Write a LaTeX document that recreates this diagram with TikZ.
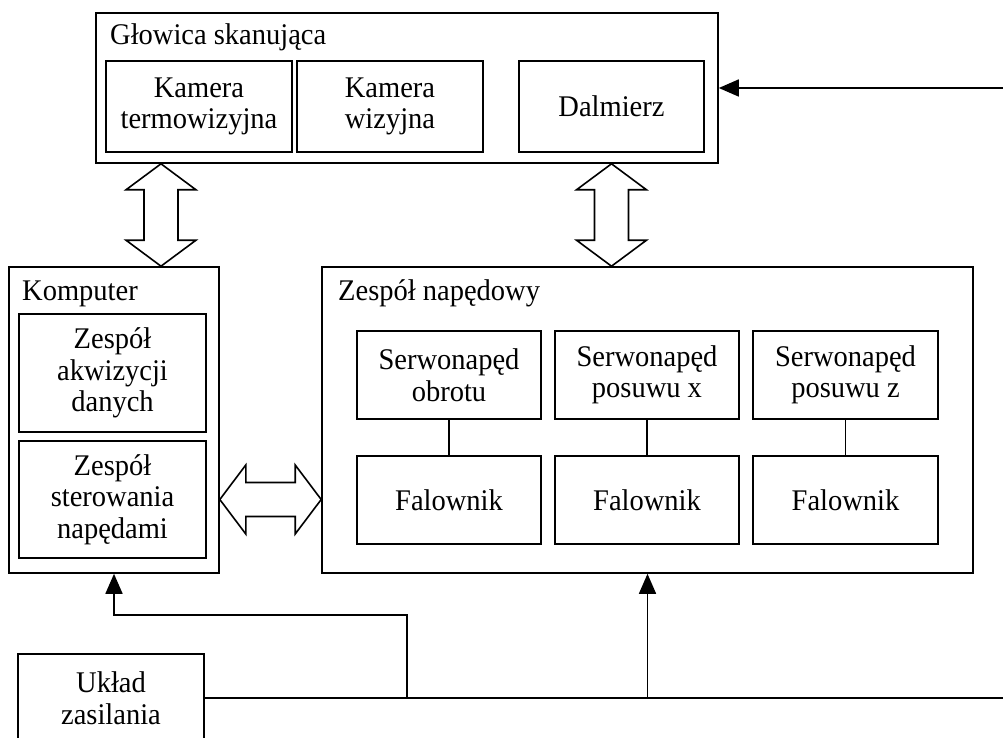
\documentclass[tikz,border=0pt]{standalone}
\usepackage{fontspec}
\setmainfont{Liberation Serif}[FakeStretch=0.95]
\usetikzlibrary{arrows.meta,calc}
\tikzset{
  lw/.style={line width=1.6pt},
  box/.style={draw, lw, inner sep=0pt, align=center, font=\fontsize{30}{31.5}\selectfont},
  ttl/.style={anchor=base west, inner sep=0pt, font=\fontsize{30}{31.5}\selectfont},
  darr/.style={draw, lw, line join=miter},
  conn/.style={lw},
  tipconn/.style={lw, -{Triangle[length=20pt,width=17pt]}}
}
\newcommand{\vdarr}[2]{\draw[darr] (#1) -- ($(#1)+(35,26)$) -- ($(#1)+(17,26)$) -- ($(#2)+(17,-26)$) -- ($(#2)+(35,-26)$) -- (#2) -- ($(#2)+(-35,-26)$) -- ($(#2)+(-17,-26)$) -- ($(#1)+(-17,26)$) -- ($(#1)+(-35,26)$) -- cycle;}
\newcommand{\hdarr}[2]{\draw[darr] (#1) -- ($(#1)+(26,-34.5)$) -- ($(#1)+(26,-17)$) -- ($(#2)+(-26,-17)$) -- ($(#2)+(-26,-34.5)$) -- (#2) -- ($(#2)+(-26,34.5)$) -- ($(#2)+(-26,17)$) -- ($(#1)+(26,17)$) -- ($(#1)+(26,34.5)$) -- cycle;}
\begin{document}
\begin{tikzpicture}[x=1pt,y=-1pt]
\useasboundingbox (0,0) rectangle (1003,738);
\clip (0,0) rectangle (1003,738);
% Glowica
\node[box, minimum width=622pt, minimum height=150pt] (glowica) at (407,88) {};
\node[ttl] (glowicaT) at (110,45) {Głowica skanująca};
\node[box, minimum width=186pt, minimum height=91pt] (kt) at (199,106.5) {Kamera\\termowizyjna};
\node[box, minimum width=186pt, minimum height=91pt] (kw) at (390,106.5) {Kamera\\wizyjna};
\node[box, minimum width=185pt, minimum height=91pt] (dal) at (611.5,106.5) {Dalmierz};
% Komputer
\node[box, minimum width=210pt, minimum height=306pt] (komp) at (114,420) {};
\node[ttl] (kompT) at (22,300) {Komputer};
\node[box, minimum width=187pt, minimum height=118pt] (akw) at (112.5,373) {Zespół\\akwizycji\\danych};
\node[box, minimum width=187pt, minimum height=117pt] (ster) at (112.5,499.5) {Zespół\\sterowania\\napędami};
% Zespol napedowy
\node[box, minimum width=651pt, minimum height=306pt] (nap) at (647.5,420) {};
\node[ttl] (napT) at (338,300) {Zespół napędowy};
\node[box, minimum width=184pt, minimum height=88pt] (s1) at (449,375) {Serwonapęd\\obrotu};
\node[box, minimum width=184pt, minimum height=88pt] (s2) at (647,375) {Serwonapęd\\posuwu x};
\node[box, minimum width=185pt, minimum height=88pt] (s3) at (845.5,375) {Serwonapęd\\posuwu z};
\node[box, minimum width=184pt, minimum height=88pt] (f1) at (449,500) {Falownik};
\node[box, minimum width=184pt, minimum height=88pt] (f2) at (647,500) {Falownik};
\node[box, minimum width=185pt, minimum height=88pt] (f3) at (845.5,500) {Falownik};
% Zasilanie
\node[box, minimum width=186pt, minimum height=88pt] (zas) at (111,698) {Układ\\zasilania};
% connectors inside napedowy
\draw[conn] (s1) -- (f1);
\draw[conn] (s2) -- (f2);
\draw[conn] (s3) -- (f3);
% double arrows
\coordinate (lx) at (161,0);
\coordinate (d1t) at (glowica.south -| lx);
\coordinate (d1b) at (komp.north -| lx);
\coordinate (d2t) at (glowica.south -| dal.south);
\coordinate (d2b) at (nap.north -| dal.south);
\coordinate (h1a) at (komp.east |- ster.east);
\coordinate (h1b) at (nap.west |- ster.east);
\vdarr{d1t}{d1b}
\vdarr{d2t}{d2b}
\hdarr{h1a}{h1b}
% input from right
\coordinate (inR) at (1003,88);
\draw[tipconn] (inR) -- (glowica.east);
% power lines
\coordinate (pR) at (1003,698);
\coordinate (bx) at (407,698);
\coordinate (bt) at (407,615);
\draw[conn] (zas.east) -- (pR);
\draw[tipconn] (bx) -- (bt) -- (bt -| komp.south) -- (komp.south);
\draw[tipconn] (zas.east -| nap.south) -- (nap.south);
\end{tikzpicture}
\end{document}
